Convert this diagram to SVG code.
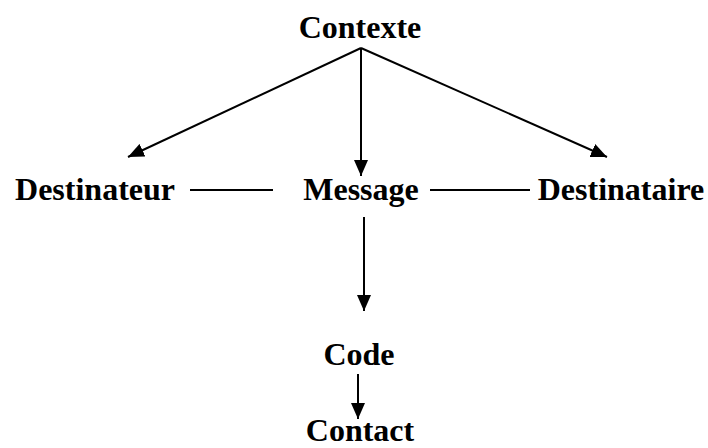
<svg xmlns="http://www.w3.org/2000/svg" width="708" height="448" viewBox="0 0 708 448">
<style>
text{font-family:"Liberation Serif","Times New Roman",serif;font-weight:bold;font-size:32px;fill:#000;text-anchor:middle}
.c{stroke:#000;stroke-width:2;fill:none}
</style>
<defs>
<marker id="ah" markerUnits="userSpaceOnUse" markerWidth="18" markerHeight="14" refX="16" refY="7" orient="auto">
<path d="M0,0 L16,7 L0,14 Z" fill="#000"/>
</marker>
</defs>
<rect width="708" height="448" fill="#fff"/>
<g id="connectors">
<line class="c" x1="361" y1="48" x2="128" y2="157" marker-end="url(#ah)"/>
<line class="c" x1="361" y1="48" x2="361" y2="176" marker-end="url(#ah)"/>
<line class="c" x1="361" y1="48" x2="607" y2="157" marker-end="url(#ah)"/>
<line class="c" x1="190" y1="190" x2="273" y2="190"/>
<line class="c" x1="430" y1="190" x2="530" y2="190"/>
<line class="c" x1="364" y1="217" x2="364" y2="311" marker-end="url(#ah)"/>
<line class="c" x1="358" y1="374" x2="358" y2="419" marker-end="url(#ah)"/>
</g>
<g id="contexte"><text x="360" y="38">Contexte</text></g>
<g id="destinateur"><text x="95" y="200">Destinateur</text></g>
<g id="message"><text x="361" y="200">Message</text></g>
<g id="destinataire"><text x="621" y="200">Destinataire</text></g>
<g id="code"><text x="359" y="365">Code</text></g>
<g id="contact"><text x="360" y="441">Contact</text></g>
</svg>
